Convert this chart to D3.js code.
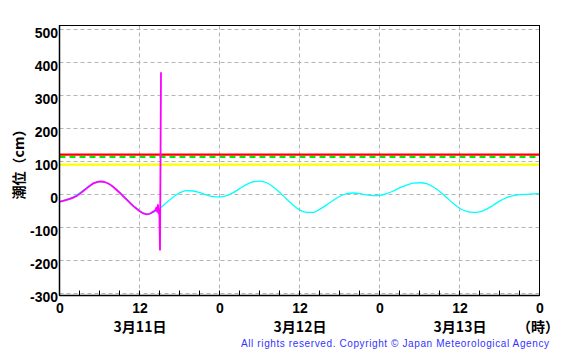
<!DOCTYPE html>
<html><head><meta charset="utf-8">
<script src="https://cdn.jsdelivr.net/npm/d3@7"></script>
<style>
body{margin:0;background:#fff;}
svg{display:block;}
</style></head>
<body><svg id="c" width="566" height="355"></svg>
<script>
// Hours since 3/11 00:00
const predHours = d3.range(0, 73);
const predicted = [-22,-15,-8,5,20,33,38,35,22,5,-15,-35,-50,-60,-55,-42,-25,-8,5,11,10,5,-2,-7,-8,-4,5,18,30,38,40,35,22,5,-15,-33,-48,-55,-55,-45,-32,-18,-6,2,4,2,-2,-4,-3,2,10,20,28,34,35,32,22,8,-10,-28,-43,-52,-55,-53,-45,-33,-20,-10,-4,-1,0,1,2];
const obsHours = [0,0.5,1,1.5,2,2.5,3,3.5,4,4.5,5,5.5,6,6.5,7,7.5,8,8.5,9,9.5,10,10.5,11,11.5,12,12.5,13,13.5,14,14.3,14.5,14.6,14.7,14.8,14.9,14.95,15.0,15.15];
const observed = [-22,-20,-17,-14,-10,-5,2,10,18,26,33,37,39,38,35,30,22,13,4,-6,-16,-26,-36,-44,-52,-58,-61,-59,-52,-48,-38,-55,-30,-60,-45,-105,-170,370];
const levelRed = 120, levelGreen = 113, levelYellow = 90;
const yTicks = [500,400,300,200,100,0,-100,-200,-300];
const xTickHours = [0,12,24,36,48,60,72];
const xTickLabels = ["0","12","0","12","0","12","0"];
const dateLabels = ["3月11日","3月12日","3月13日"];
const dateHours = [12,36,60];

const svg = d3.select("#c");
const x = d3.scaleLinear().domain([0,72]).range([60,540]);
const y = d3.scaleLinear().domain([-300,500]).range([293.3,29.3]);
const L=59.5,R=539.5,T=25.5,B=295.5;

// grid
const g = svg.append("g");
g.selectAll("line.h").data(yTicks).join("line")
 .attr("x1",L).attr("x2",R).attr("y1",d=>Math.round(y(d))+0.5).attr("y2",d=>Math.round(y(d))+0.5)
 .attr("stroke","#b4b4b4").attr("stroke-dasharray","4,3").attr("stroke-width",1);
g.selectAll("line.v").data(xTickHours.slice(1,-1)).join("line")
 .attr("x1",d=>Math.round(x(d))-0.5).attr("x2",d=>Math.round(x(d))-0.5).attr("y1",T).attr("y2",B)
 .attr("stroke","#b4b4b4").attr("stroke-dasharray","4,3").attr("stroke-width",1);
// minor ticks every 3h
g.selectAll("line.m").data(d3.range(3,72,3)).join("line")
 .attr("x1",d=>Math.round(x(d))-0.5).attr("x2",d=>Math.round(x(d))-0.5).attr("y1",B-5).attr("y2",B)
 .attr("stroke","#000").attr("stroke-width",1);

// levels
const hl = (v,c,dash)=>svg.append("line").attr("x1",L).attr("x2",R).attr("y1",y(v)).attr("y2",y(v))
  .attr("stroke",c).attr("stroke-width",2.2).attr("stroke-dasharray",dash||null);
hl(levelRed,"#ff0000");
hl(levelGreen,"#00ee00","6,4");
hl(levelYellow,"#ffff00");

// lines
svg.append("path").datum(predHours.map((h,i)=>[h,predicted[i]]))
 .attr("d",d3.line().x(d=>x(d[0])).y(d=>y(d[1])).curve(d3.curveMonotoneX)).attr("fill","none").attr("stroke","#00ffff").attr("stroke-width",1.3);
svg.append("path").datum(obsHours.map((h,i)=>[h,observed[i]]))
 .attr("d",d3.line().x(d=>x(d[0])).y(d=>y(d[1]))).attr("fill","none").attr("stroke","#ff00ff").attr("stroke-width",1.8);

// frame
svg.append("rect").attr("x",L).attr("y",T).attr("width",R-L).attr("height",B-T)
 .attr("fill","none").attr("stroke","#000").attr("stroke-width",1);
svg.append("line").attr("x1",L).attr("x2",L).attr("y1",T).attr("y2",B).attr("stroke","#000").attr("stroke-width",1.5);
svg.append("line").attr("x1",L).attr("x2",R).attr("y1",B).attr("y2",B).attr("stroke","#000").attr("stroke-width",1.5);

const font = "'Liberation Sans', Arial, sans-serif";
svg.selectAll("text.yt").data(yTicks).join("text")
 .attr("x",58).attr("y",d=>y(d)+9).attr("text-anchor","end")
 .attr("font-family",font).attr("font-weight","bold").attr("font-size",14).text(d=>d);
svg.selectAll("text.xt").data(xTickHours).join("text")
 .attr("x",d=>x(d)).attr("y",313).attr("text-anchor","middle")
 .attr("font-family",font).attr("font-weight","bold").attr("font-size",14).text((d,i)=>xTickLabels[i]);
const jf = "'Noto Sans CJK JP', sans-serif";
svg.selectAll("text.dt").data(dateHours).join("text")
 .attr("x",d=>x(d)).attr("y",332).attr("text-anchor","middle")
 .attr("font-family",jf).attr("font-weight","bold").attr("font-size",14).text((d,i)=>dateLabels[i]);
svg.append("text").attr("x",538).attr("y",332).attr("text-anchor","middle")
 .attr("font-family",jf).attr("font-weight","bold").attr("font-size",14).text("（時）");
svg.append("text").attr("transform","translate(24,161) rotate(-90)").attr("text-anchor","middle")
 .attr("font-family",jf).attr("font-weight","bold").attr("font-size",14).text("潮位（cm）");
svg.append("text").attr("x",241).attr("y",347).attr("textLength",308).attr("lengthAdjust","spacing")
 .attr("font-family",font).attr("font-size",10).attr("fill","#3333ff")
 .text("All rights reserved. Copyright © Japan Meteorological Agency");
</script></body></html>
